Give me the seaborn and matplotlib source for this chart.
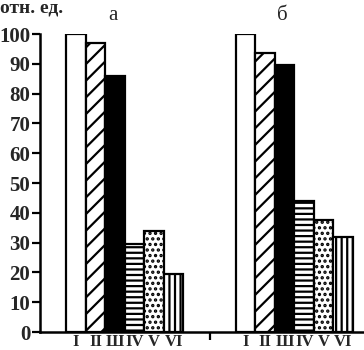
import matplotlib
matplotlib.use('Agg')
import matplotlib.pyplot as plt
import pandas as pd
import seaborn as sns

# values (отн. ед.)
groups = ['а', 'б']
bars = ['I', 'II', 'Ш', 'IV', 'V', 'VI']
values_a = [100, 97, 86, 29.5, 34, 19.5]
values_b = [100, 93.5, 89.5, 44, 37.5, 32]
y_ticks = list(range(0, 101, 10))

hatches = ['', '//', '', '---', '...', '|||']
fills = ['white', 'white', 'black', 'white', 'white', 'white']

df = pd.DataFrame({
    'group': [groups[0]] * len(bars) + [groups[1]] * len(bars),
    'bar': bars * 2,
    'value': values_a + values_b,
})

sns.set_style('white')
plt.rcParams['font.family'] = ['Liberation Serif', 'DejaVu Serif']
plt.rcParams['hatch.linewidth'] = 1.6
plt.rcParams['hatch.color'] = 'black'

fig = plt.figure(figsize=(3.64, 3.5), dpi=100)
ax = fig.add_axes([0.11, 0.0514, 0.89, 0.8514])

sns.barplot(data=df, x='group', y='value', hue='bar', hue_order=bars,
            palette=dict(zip(bars, fills)), width=0.69, dodge=True,
            edgecolor='black', linewidth=1.6, saturation=1,
            legend=False, ax=ax)

# seaborn draws patches hue level by hue level
n = len(bars) * len(groups)
for i, p in enumerate(ax.patches[:n]):
    p.set_hatch(hatches[i // len(groups)])
    p.set_edgecolor('black')

ax.set_ylim(0, 100)
ax.set_xlim(-0.5, 1.41)
ax.set_yticks(y_ticks)
ax.set_yticklabels([str(t) for t in y_ticks], fontsize=15, fontweight='bold')
ax.set_xticks([0.5])
ax.set_xticklabels([''])
ax.tick_params(axis='both', direction='out', length=6, width=1.6,
               color='black', left=True, bottom=True, pad=1)
ax.set_xlabel('')
ax.set_ylabel('')
for s in ['top', 'right']:
    ax.spines[s].set_visible(False)
for s in ['left', 'bottom']:
    ax.spines[s].set_linewidth(1.8)
    ax.spines[s].set_color('black')

# roman numerals under each bar
for i, p in enumerate(ax.patches[:n]):
    cx = p.get_x() + p.get_width() / 2
    ax.text(cx, -0.8, bars[i // len(groups)], ha='center', va='top',
            fontsize=12, fontweight='bold')

for j, g in enumerate(groups):
    ax.text(j - 0.07, 103, g, ha='center', va='bottom', fontsize=15)

fig.text(0.0, 1.0, 'отн. ед.', ha='left', va='top', fontsize=14,
         fontweight='bold')

ax.patch.set_alpha(0)
plt.savefig('out.png', dpi=100)
